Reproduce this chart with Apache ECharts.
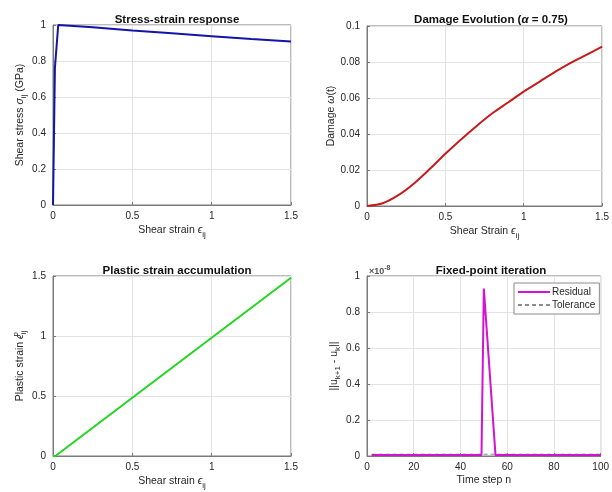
<!DOCTYPE html>
<html>
<head>
<meta charset="utf-8">
<script src="https://cdn.jsdelivr.net/npm/echarts@6/dist/echarts.min.js"></script>
<style>
  html, body { margin: 0; padding: 0; background: #ffffff; }
  #chart { width: 612px; height: 492px; }
</style>
</head>
<body>
<div id="chart"></div>
<script>
// Stress-strain response
const stressStrain = [0, 0.012, 0.033, 0.25, 0.5, 0.75, 1.0, 1.25, 1.5];
const stressValues = [0, 0.76, 1.0, 0.987, 0.970, 0.954, 0.938, 0.922, 0.908];

// Damage evolution
const damageStrain = [0, 0.1, 0.2, 0.3, 0.4, 0.5, 0.6, 0.7, 0.8, 0.9, 1.0, 1.1, 1.2, 1.3, 1.4, 1.5];
const damageValues = [0, 0.0015, 0.006, 0.0125, 0.0205, 0.029, 0.037, 0.0445, 0.0515, 0.0575, 0.0635, 0.069, 0.0745, 0.0795, 0.084, 0.0885];

// Plastic strain accumulation
const plasticStrainX = [0, 0.015, 0.5, 1.0, 1.5];
const plasticStrainValues = [0, 0, 0.485, 0.985, 1.485];

// Fixed-point iteration residual (units of 1e-8)
const timeSteps = [2, 49, 50, 55, 100];
const residualValues = [0.005, 0.005, 0.93, 0.005, 0.005];
const toleranceSteps = [2, 100];
const toleranceValues = [0.01, 0.01];

// Tick values
const strainTicks = [0, 0.5, 1, 1.5];
const stressTicks = [0, 0.2, 0.4, 0.6, 0.8, 1];
const damageTicks = [0, 0.02, 0.04, 0.06, 0.08, 0.1];
const plasticTicks = [0, 0.5, 1, 1.5];
const stepTicks = [0, 20, 40, 60, 80, 100];
const residualTicks = [0, 0.2, 0.4, 0.6, 0.8, 1];

const FONT = 'Liberation Sans, Arial, sans-serif';
const TXT = '#262626';
const BOX = '#7a7a7a';

const pairs = (xs, ys) => xs.map((x, i) => [x, ys[i]]);
const fmt = v => String(+v.toFixed(4));

const NS = 10.5;
const nameRich = {
  n: { fontSize: NS, color: TXT, fontFamily: FONT, lineHeight: 14 },
  g: { fontSize: NS, color: TXT, fontFamily: FONT, fontStyle: 'italic', lineHeight: 14 },
  sub: { fontSize: 8, color: TXT, fontFamily: FONT, lineHeight: 8, padding: [9, 0, 0, 0] },
  sup: { fontSize: 8, color: TXT, fontFamily: FONT, lineHeight: 8, padding: [0, 0, 8, 0], width: 0.1 },
  subp: { fontSize: 8, color: TXT, fontFamily: FONT, lineHeight: 8, padding: [9, 0, 0, 0] }
};

function axis(gridIndex, ticks, name, gap, isY) {
  const step = ticks[1] - ticks[0];
  return {
    type: 'value',
    gridIndex,
    min: ticks[0],
    max: ticks[ticks.length - 1],
    interval: step,
    name,
    nameLocation: 'middle',
    nameGap: gap,
    nameRotate: isY ? 90 : 0,
    nameTextStyle: { rich: nameRich, fontSize: NS, color: TXT, fontFamily: FONT },
    axisLine: { show: true, onZero: false, lineStyle: { color: BOX, width: 1 } },
    axisTick: { show: true, inside: true, length: 3, lineStyle: { color: BOX } },
    splitLine: { show: true, lineStyle: { color: '#e3e3e3', width: 1 } },
    axisLabel: { color: TXT, fontSize: 10, fontFamily: FONT, margin: isY ? 7 : 6, formatter: fmt,
      showMinLabel: true, showMaxLabel: true },
    splitNumber: ticks.length - 1
  };
}

const grids = [
  { left: 53, top: 25, width: 238, height: 180 },
  { left: 367, top: 26, width: 238, height: 180 },
  { left: 53, top: 276, width: 238, height: 180 },
  { left: 367, top: 276, width: 239, height: 180 }
].map(g => Object.assign({ show: true, borderColor: BOX, borderWidth: 1, backgroundColor: '#ffffff' }, g));

const titleStyle = { fontSize: 11.5, fontWeight: 'bold', color: '#111111', fontFamily: FONT };
const titles = [
  { text: 'Stress-strain response', left: 172, top: 9 },
  { text: 'Damage Evolution ({a|α} = 0.75)', left: 486, top: 9 },
  { text: 'Plastic strain accumulation', left: 172, top: 260 },
  { text: 'Fixed-point iteration', left: 486, top: 260 }
].map(t => ({
  text: t.text, left: t.left, top: t.top, textAlign: 'center',
  textStyle: Object.assign({}, titleStyle, {
    rich: { a: { fontSize: 11.5, fontStyle: 'italic', fontWeight: 'bold', color: '#111111', fontFamily: FONT } }
  })
}));
titles.push({
  text: '×10{s|-8}', left: 369, top: 265, padding: 0,
  textStyle: { fontSize: 9, color: '#555555', fontFamily: FONT,
    rich: { s: { fontSize: 7, color: '#555555', fontFamily: FONT, padding: [0, 0, 6, 0] } } }
});

const option = {
  animation: false,
  backgroundColor: '#ffffff',
  textStyle: { fontFamily: FONT },
  title: titles,
  grid: grids,
  legend: {
    data: ['Residual', 'Tolerance'],
    orient: 'vertical',
    left: 514, top: 283,
    itemWidth: 32, itemHeight: 12, itemGap: 3,
    padding: [4, 4, 4, 3],
    borderColor: '#8a8a8a', borderWidth: 1,
    backgroundColor: '#ffffff',
    itemStyle: { opacity: 0 },
    textStyle: { fontSize: 10, color: TXT, fontFamily: FONT, padding: [0, 0, 0, -3] }
  },
  xAxis: [
    axis(0, strainTicks, '{n|Shear strain }{g|ϵ}{sub|ij}', 17, false),
    axis(1, strainTicks, '{n|Shear Strain }{g|ϵ}{sub|ij}', 17, false),
    axis(2, strainTicks, '{n|Shear strain }{g|ϵ}{sub|ij}', 17, false),
    axis(3, stepTicks, '{n|Time step n}', 17, false)
  ],
  yAxis: [
    axis(0, stressTicks, '{n|Shear stress }{g|σ}{sub|ij}{n| (GPa)}', 24, true),
    axis(1, damageTicks, '{n|Damage }{g|ω}{n|(t)}', 23, true),
    axis(2, plasticTicks, '{n|Plastic strain }{g|ϵ}{sup|p}{subp|ij}', 25, true),
    axis(3, residualTicks, '{n|||u}{sub|k+1}{n| - u}{sub|k}{n|||}', 24, true)
  ],
  series: [
    { name: 'Stress', type: 'line', xAxisIndex: 0, yAxisIndex: 0, data: pairs(stressStrain, stressValues),
      symbol: 'none', clip: false, lineStyle: { color: '#1414a6', width: 2 } },
    { name: 'Damage', type: 'line', xAxisIndex: 1, yAxisIndex: 1, data: pairs(damageStrain, damageValues),
      symbol: 'none', clip: false, smooth: 0.3, lineStyle: { color: '#c41c1c', width: 2 } },
    { name: 'Plastic', type: 'line', xAxisIndex: 2, yAxisIndex: 2, data: pairs(plasticStrainX, plasticStrainValues),
      symbol: 'none', clip: false, lineStyle: { color: '#22d622', width: 2 } },
    { name: 'Tolerance', type: 'line', xAxisIndex: 3, yAxisIndex: 3, data: pairs(toleranceSteps, toleranceValues),
      symbol: 'none', clip: false, z: 1, itemStyle: { color: '#8c8c8c' },
      lineStyle: { color: '#8c8c8c', width: 1, type: [4, 3] } },
    { name: 'Residual', type: 'line', xAxisIndex: 3, yAxisIndex: 3, data: pairs(timeSteps, residualValues),
      symbol: 'none', clip: false, z: 3, itemStyle: { color: '#d214d2' }, lineStyle: { color: '#d214d2', width: 2 } }
  ]
};

const chart = echarts.init(document.getElementById('chart'), null, { renderer: 'canvas' });
chart.setOption(option);
</script>
</body>
</html>
